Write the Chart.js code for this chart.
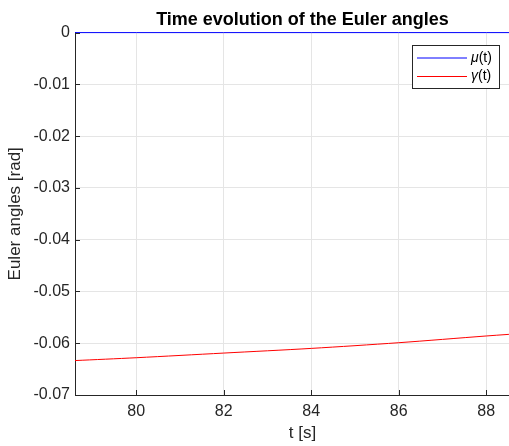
<!DOCTYPE html>
<html>
<head>
<meta charset="utf-8">
<script src="https://cdn.jsdelivr.net/npm/chart.js@4"></script>
<style>
  html, body { margin: 0; padding: 0; background: #fff; overflow: hidden; }
  #wrap { width: 509px; height: 446px; overflow: hidden; }
  #box { width: 530px; height: 446px; }
</style>
</head>
<body>
<div id="wrap"><div id="box"><canvas id="c"></canvas></div></div>
<script>
// time samples [s]
var times = [78.6, 80, 82, 84, 86, 88, 89];
// mu(t) stays at zero
var mu = [0, 0, 0, 0, 0, 0, 0];
// gamma(t)
var gamma = [-0.06335, -0.0628, -0.0619, -0.0610, -0.0599, -0.0586, -0.0580];
var seriesNames = ['\u03bc(t)', '\u03b3(t)'];
var seriesColors = ['#0000ff', '#ff0000'];

var axisColor = '#262626';
var fontFam = '"Liberation Sans", Arial, Helvetica, sans-serif';

function pts(ys) {
  return times.map(function (t, i) { return { x: t, y: ys[i] }; });
}

// matlab style: inward ticks, legend box inside the axes
var matlabBits = {
  id: 'matlabBits',
  afterDatasetsDraw: function (chart) {
    var ctx = chart.ctx, a = chart.chartArea;
    var xs = chart.scales.x, ys = chart.scales.y;
    ctx.save();
    ctx.strokeStyle = axisColor;
    ctx.lineWidth = 1;
    ctx.beginPath();
    xs.ticks.forEach(function (t) {
      var px = Math.round(xs.getPixelForValue(t.value)) + 0.5;
      ctx.moveTo(px, a.bottom);
      ctx.lineTo(px, a.bottom - 5);
    });
    ys.ticks.forEach(function (t) {
      var py = Math.round(ys.getPixelForValue(t.value)) + 0.5;
      ctx.moveTo(a.left, py);
      ctx.lineTo(a.left + 5, py);
    });
    ctx.stroke();

    // legend
    var lx = 412.5, ly = 45.5, lw = 87, lh = 43;
    ctx.fillStyle = '#fff';
    ctx.fillRect(lx, ly, lw, lh);
    ctx.strokeStyle = axisColor;
    ctx.strokeRect(lx, ly, lw, lh);
    ctx.textBaseline = 'middle';
    ctx.textAlign = 'left';
    chart.data.datasets.forEach(function (ds, i) {
      var yy = 58 + i * 18.5;
      ctx.strokeStyle = ds.borderColor;
      ctx.beginPath();
      ctx.moveTo(417, yy);
      ctx.lineTo(467, yy);
      ctx.stroke();
      ctx.fillStyle = '#000';
      var greek = ds.label.charAt(0), rest = ds.label.slice(1);
      ctx.font = 'italic 14px ' + fontFam;
      ctx.fillText(greek, 471, yy);
      var gw = ctx.measureText(greek).width;
      ctx.font = '14px ' + fontFam;
      ctx.fillText(rest, 471 + gw, yy);
    });
    ctx.restore();
  }
};

new Chart(document.getElementById('c'), {
  type: 'line',
  data: {
    datasets: [
      { label: seriesNames[0], data: pts(mu), borderColor: seriesColors[0], borderWidth: 1, pointRadius: 0, tension: 0, clip: 3 },
      { label: seriesNames[1], data: pts(gamma), borderColor: seriesColors[1], borderWidth: 1, pointRadius: 0, tension: 0.3, clip: 3 }
    ]
  },
  options: {
    responsive: true,
    maintainAspectRatio: false,
    animation: false,
    layout: { padding: 0 },
    plugins: {
      legend: { display: false },
      tooltip: { enabled: false },
      title: {
        display: true,
        fullSize: false,
        text: 'Time evolution of the Euler angles',
        color: '#000',
        font: { family: fontFam, size: 18, weight: 'bold' },
        padding: { top: 9, bottom: 2 }
      }
    },
    scales: {
      x: {
        type: 'linear',
        min: 78.6,
        max: 89.0,
        afterFit: function (s) { s.height = 51; },
        border: { display: true, color: axisColor, width: 1 },
        grid: { color: '#e5e5e5', drawTicks: false },
        ticks: {
          stepSize: 2,
          includeBounds: false,
          color: axisColor,
          padding: 7,
          maxRotation: 0,
          font: { family: fontFam, size: 16 }
        },
        title: {
          display: true,
          text: 't [s]',
          color: axisColor,
          padding: { top: 1, bottom: 2 },
          font: { family: fontFam, size: 17 }
        }
      },
      y: {
        type: 'linear',
        min: -0.07,
        max: 0,
        afterFit: function (s) { s.width = 75; },
        border: { display: true, color: axisColor, width: 1 },
        grid: { color: '#e5e5e5', drawTicks: false },
        ticks: {
          stepSize: 0.01,
          includeBounds: false,
          color: axisColor,
          padding: 5,
          font: { family: fontFam, size: 16 },
          callback: function (v) {
            if (Math.abs(v) < 1e-9) return '0';
            return v.toFixed(2);
          }
        },
        title: {
          display: true,
          text: 'Euler angles [rad]',
          color: axisColor,
          padding: { top: 5, bottom: 0 },
          font: { family: fontFam, size: 17 }
        }
      }
    }
  },
  plugins: [matlabBits]
});
</script>
</body>
</html>
